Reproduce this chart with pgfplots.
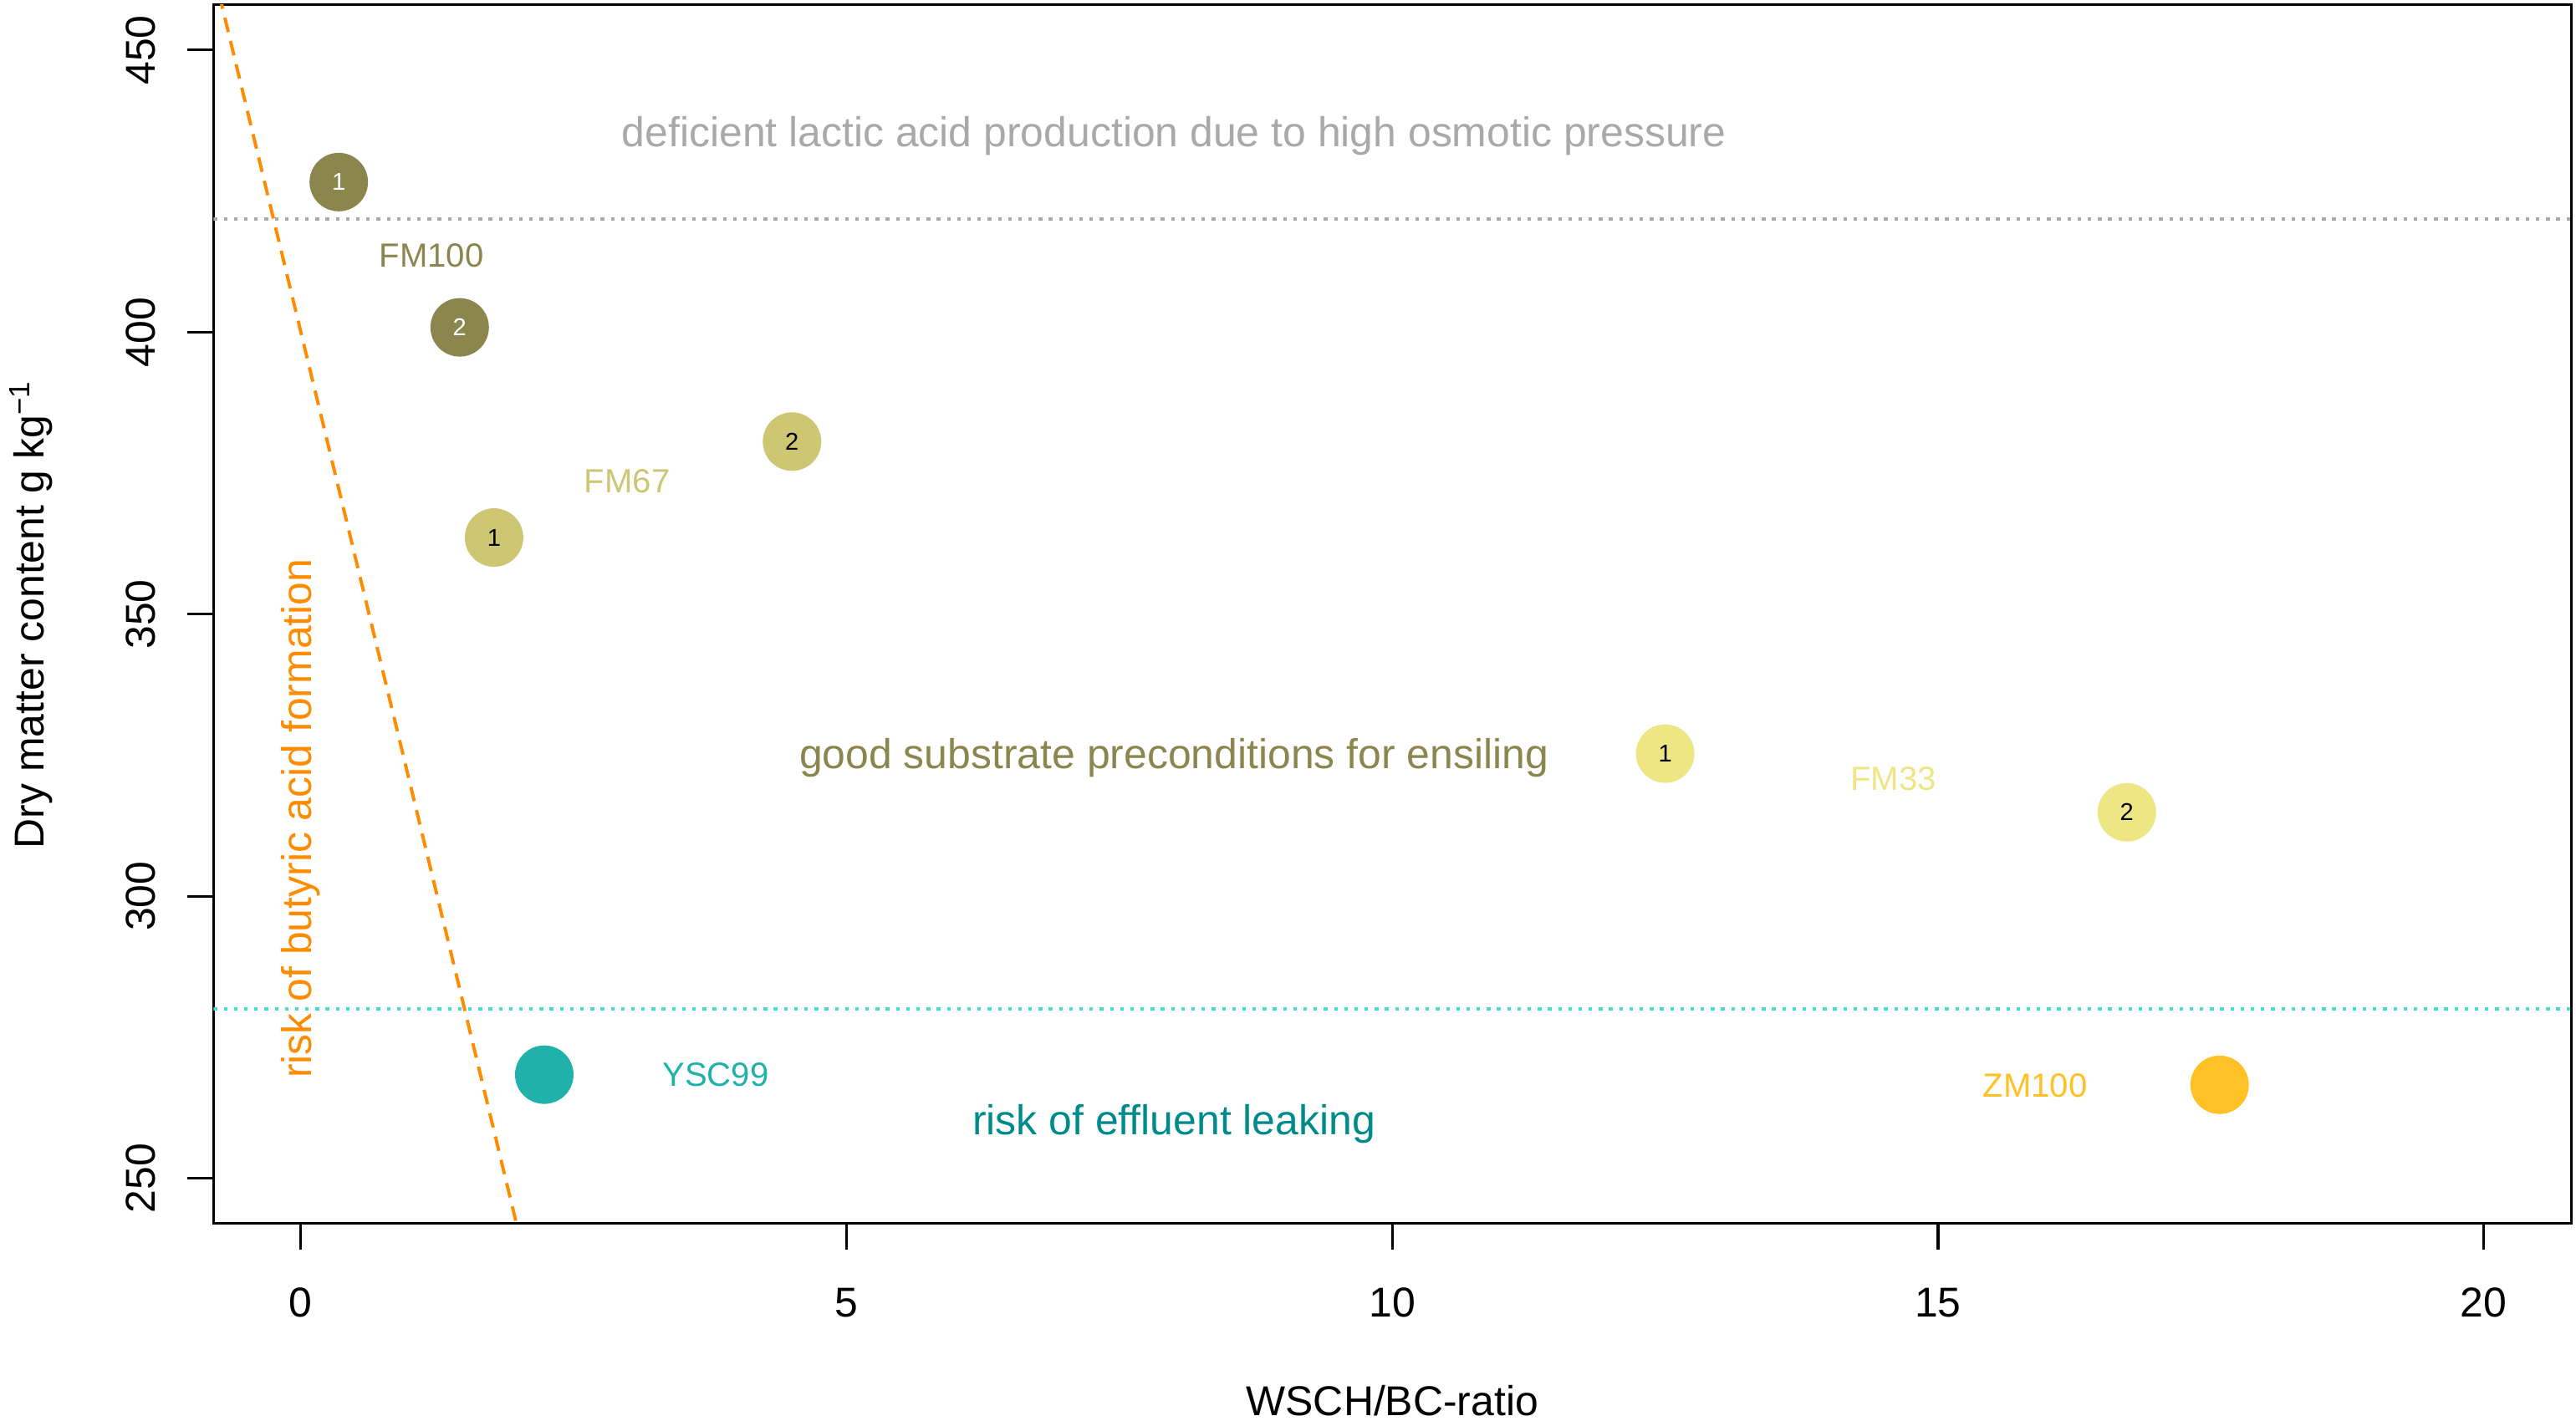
\documentclass[border=0pt]{standalone}
\usepackage{fontspec}
\setmainfont{Liberation Sans}
\usepackage{pgfplots}
\pgfplotsset{compat=1.18}
\definecolor{khakiD}{RGB}{139,134,78}
\definecolor{khakiM}{RGB}{205,198,115}
\definecolor{khakiL}{RGB}{238,230,133}
\definecolor{seagreen}{RGB}{32,178,170}
\definecolor{gold1}{RGB}{255,193,37}
\definecolor{turq}{RGB}{64,224,208}
\definecolor{dgray}{RGB}{169,169,169}
\definecolor{dcyan}{RGB}{0,139,139}
\definecolor{dorange}{RGB}{255,140,0}
\newcommand{\fbig}{\fontsize{12.7}{15}\selectfont}
\newcommand{\fmid}{\fontsize{10.2}{12}\selectfont}
\newcommand{\fsmall}{\fontsize{7.4}{9}\selectfont}
\begin{document}
\begin{tikzpicture}
\begin{axis}[
  scale only axis, width=717.5pt, height=371pt,
  xmin=-0.8, xmax=20.8, ymin=242, ymax=458,
  axis line style={line width=0.8pt},
  every tick/.style={black, line width=0.8pt},
  tick align=outside, major tick length=8pt,
  xtick={0,5,10,15,20}, ytick={250,300,350,400,450},
  xtick pos=bottom, ytick pos=left,
  /pgf/number format/assume math mode=true,
  ticklabel style={font=\fbig},
  yticklabel style={rotate=90, anchor=south, inner sep=0pt},
  xticklabel style={anchor=north, inner sep=0pt},
  yticklabel shift=9.5pt,
  xticklabel shift=11.4pt,
  xlabel={WSCH/BC-ratio},
  ylabel={Dry matter content g kg\textsuperscript{−1}},
  xlabel style={at={([yshift=-54pt]axis description cs:0.5,0)}, anchor=center, font=\fbig},
  ylabel style={at={([xshift=-55.5pt]axis description cs:0,0.5)}, anchor=center, rotate=0, font=\fbig},
  clip=true,
]
% threshold lines
\addplot[dgray, line width=1pt, dash pattern=on 1.1pt off 2pt] coordinates {(-0.8,420) (20.8,420)};
\addplot[turq, line width=1pt, dash pattern=on 1.1pt off 2pt] coordinates {(-0.8,280) (20.8,280)};
\addplot[dorange, line width=1pt, dash pattern=on 4.5pt off 2.8pt] coordinates {(-0.8,464) (2.0,240)};
% data points
\addplot[only marks, color=khakiD, mark=*, mark size=8.7pt, mark options={solid, fill=khakiD, draw=khakiD, line width=0.4pt},
  nodes near coords, point meta=explicit symbolic,
  every node near coord/.style={anchor=center, font=\fsmall, text=white}]
  coordinates {(0.347,426.6)[1] (1.455,400.85)[2]};
\addplot[only marks, color=khakiM, mark=*, mark size=8.7pt, mark options={solid, fill=khakiM, draw=khakiM, line width=0.4pt},
  nodes near coords, point meta=explicit symbolic,
  every node near coord/.style={anchor=center, font=\fsmall, text=black}]
  coordinates {(1.77,363.6)[1] (4.50,380.6)[2]};
\addplot[only marks, color=khakiL, mark=*, mark size=8.7pt, mark options={solid, fill=khakiL, draw=khakiL, line width=0.4pt},
  nodes near coords, point meta=explicit symbolic,
  every node near coord/.style={anchor=center, font=\fsmall, text=black}]
  coordinates {(12.50,325.3)[1] (16.73,314.9)[2]};
\addplot[only marks, color=seagreen, mark=*, mark size=8.7pt, mark options={solid, fill=seagreen, draw=seagreen, line width=0.4pt}]
  coordinates {(2.23,268.4)};
\addplot[only marks, color=gold1, mark=*, mark size=8.7pt, mark options={solid, fill=gold1, draw=gold1, line width=0.4pt}]
  coordinates {(17.58,266.6)};
% point labels
\node[text=khakiD, font=\fmid] at (axis cs:1.196,413.6) {FM100};
\node[text=khakiM, font=\fmid] at (axis cs:2.99,373.6) {FM67};
\node[text=khakiL, font=\fmid] at (axis cs:14.59,320.8) {FM33};
\node[text=seagreen, font=\fmid] at (axis cs:3.80,268.4) {YSC99};
\node[text=gold1, font=\fmid] at (axis cs:15.89,266.4) {ZM100};
% zone annotations
\node[text=dgray, font=\fbig] at (axis cs:8,434.8) {deficient lactic acid production due to high osmotic pressure};
\node[text=khakiD, font=\fbig] at (axis cs:8,324.6) {good substrate preconditions for ensiling};
\node[text=dcyan, font=\fbig] at (axis cs:8,259.7) {risk of effluent leaking};
\node[text=dorange, font=\fbig, rotate=90] at (axis cs:0,313.8) {risk of butyric acid formation};
\end{axis}
\pgfresetboundingbox
\path[use as bounding box] ([xshift=-65pt,yshift=-60pt]current axis.south west) rectangle ([xshift=1.5pt,yshift=1.5pt]current axis.north east);
\end{tikzpicture}
\end{document}
